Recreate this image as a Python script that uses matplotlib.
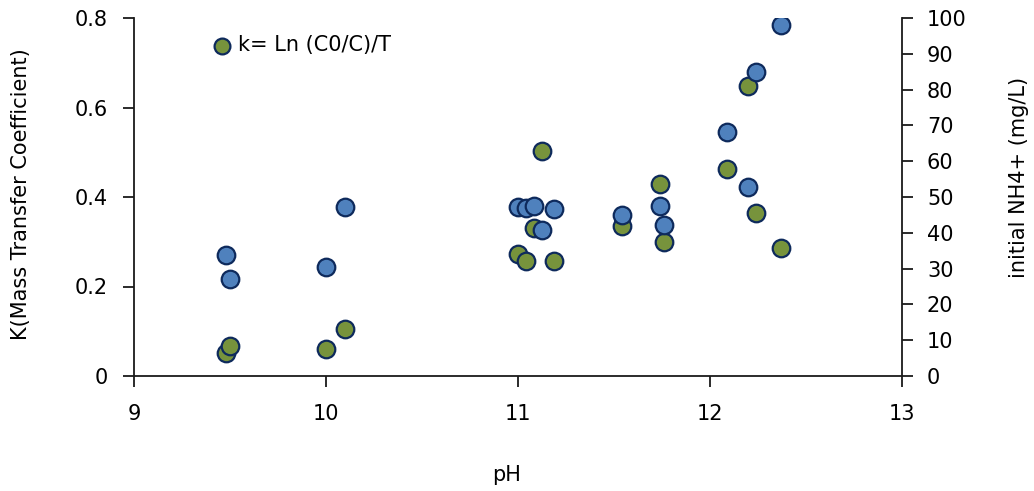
import matplotlib
matplotlib.use("Agg")
import matplotlib.pyplot as plt

plt.rcParams['font.family'] = ['DejaVu Sans']

# pH of each run
ph = [9.48, 9.50, 10.00, 10.10, 11.00, 11.04, 11.085, 11.125, 11.19,
      11.54, 11.74, 11.76, 12.09, 12.20, 12.24, 12.37]
# mass transfer coefficient k = Ln(C0/C)/T
k_values = [0.052, 0.068, 0.061, 0.105, 0.273, 0.256, 0.330, 0.503, 0.256,
            0.336, 0.428, 0.299, 0.463, 0.649, 0.364, 0.285]
# initial NH4+ concentration (mg/L)
nh4_initial = [33.7, 27.0, 30.4, 47.3, 47.3, 46.9, 47.5, 40.8, 46.6,
               45.1, 47.6, 42.1, 68.2, 52.9, 85.0, 98.0]

x_ticks = [9, 10, 11, 12, 13]
k_ticks = [0, 0.2, 0.4, 0.6, 0.8]
k_tick_labels = ["0", "0.2", "0.4", "0.6", "0.8"]
nh4_ticks = list(range(0, 101, 10))

green = "#77933c"
blue = "#4f81bd"
edge = "#0e2a5c"
font_size = 15

W, H = 1034, 491
fig = plt.figure(figsize=(W / 100, H / 100), dpi=100)
ax = fig.add_axes([134 / W, 1 - 376 / H, 768 / W, 358 / H])
ax2 = ax.twinx()

ax.scatter(ph, k_values, s=160, c=green, edgecolors=edge, linewidths=1.6,
           label="k= Ln (C0/C)/T", zorder=3)
ax2.scatter(ph, nh4_initial, s=160, c=blue, edgecolors=edge, linewidths=1.6,
            zorder=3)

ax.set_xlim(9, 13)
ax.set_ylim(0, 0.8)
ax2.set_ylim(0, 100)
ax.set_xticks(x_ticks)
ax.set_yticks(k_ticks)
ax.set_yticklabels(k_tick_labels)
ax2.set_yticks(nh4_ticks)

for a in (ax, ax2):
    a.spines["top"].set_visible(False)
    for s in a.spines.values():
        s.set_linewidth(1.3)
        s.set_color("#1a1a1a")
    a.tick_params(direction="out", length=8, width=1.3, labelsize=font_size,
                  colors="#1a1a1a", labelcolor="black")
ax.spines["right"].set_visible(False)
ax2.spines["left"].set_visible(False)
ax2.spines["bottom"].set_visible(False)
ax.tick_params(axis="x", pad=12)
ax.tick_params(axis="y", pad=11)
ax2.tick_params(axis="y", pad=10)

# axis titles
fig.text(507 / W, 1 - 475 / H, "pH", fontsize=font_size,
         ha="center", va="center")
fig.text(21 / W, 1 - 194 / H, "K(Mass Transfer Coefficient)",
         fontsize=font_size, rotation=90, ha="center", va="center")
fig.text(1019 / W, 1 - 177 / H, "initial NH4+ (mg/L)",
         fontsize=font_size, rotation=90, ha="center", va="center")

ax.legend(loc="center left", bbox_to_anchor=((213 - 134) / 768, (376 - 45) / 358),
          frameon=False, fontsize=font_size, borderpad=0, borderaxespad=0,
          handlelength=0.85, handletextpad=0.35, markerscale=0.9)

fig.savefig("out.png", dpi=100)
